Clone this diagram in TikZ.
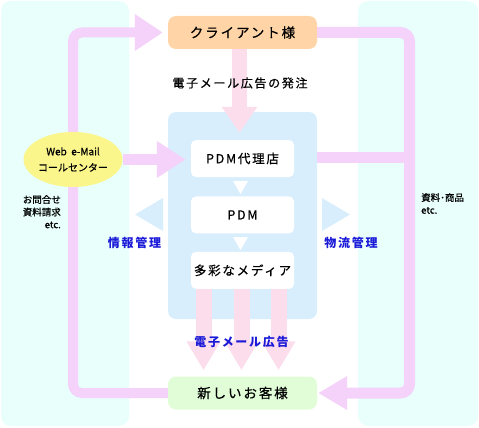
\documentclass[tikz,border=0pt]{standalone}
\usepackage{fontspec}
\setmainfont{Noto Sans CJK JP}[FakeBold=0.6]
\newfontfamily\jpwide[LetterSpace=14, FakeBold=0.6]{Noto Sans CJK JP}
\newfontfamily\jpbold[LetterSpace=14]{Noto Sans CJK JP}
\usetikzlibrary{arrows.meta, positioning, shapes.geometric}

\definecolor{panelcyan}{HTML}{E8FFFC}
\definecolor{flowviolet}{HTML}{F5D2FA}
\definecolor{adpink}{HTML}{FCDDEC}
\definecolor{pdmblue}{HTML}{D8EEFD}
\definecolor{clientpeach}{HTML}{FFD5A8}
\definecolor{custgreen}{HTML}{E0FDD8}
\definecolor{callyellow}{HTML}{FAF68C}
\definecolor{labelblue}{HTML}{1A1AD8}

\begin{document}
\begin{tikzpicture}[x=1pt, y=-1pt,
  panel/.style={fill=panelcyan, rounded corners=10pt},
  party/.style={rounded corners=8pt, minimum width=149pt, minimum height=33pt,
    inner sep=0pt, font=\jpwide\fontsize{13.5}{16}\selectfont},
  stagebox/.style={fill=white, rounded corners=5pt, minimum width=103pt,
    minimum height=37pt, inner sep=0pt, font=\jpwide\fontsize{12.5}{15}\selectfont},
  flow/.style={draw=flowviolet, line width=10pt, rounded corners=9pt},
  adarrow/.style={draw=adpink, line width=16pt,
    -{Triangle[length=29pt, width=32pt]}},
  bluelabel/.style={text=labelblue, font=\jpbold\bfseries\fontsize{12}{14}\selectfont},
  sidetext/.style={font=\fontsize{9.5}{12.5}\selectfont, inner sep=0pt}
]
\useasboundingbox (0,0) rectangle (479,428);

% side panels
\fill[panel] (1,1) rectangle (129,426);
\fill[panel] (358,1) rectangle (478,426);

% PDM block
\node[fill=pdmblue, rounded corners=8pt, minimum width=149pt, minimum height=207pt]
  (pdmpanel) at (242.5,215.5) {};
\node[stagebox] (agent) at (242.5,158.5) {PDM代理店};
\node[stagebox, below=19pt of agent] (pdm) {PDM};
\node[stagebox, below=18pt of pdm] (media) {多彩なメディア};
\fill[white] (233,181) -- (248,181) -- (240.5,194) -- cycle;
\fill[white] (233,237) -- (248,237) -- (240.5,250) -- cycle;

% information and logistics
\fill[pdmblue] (163,198) -- (163,231) -- (135,214.5) -- cycle;
\fill[pdmblue] (322,198) -- (322,231) -- (350,214.5) -- cycle;
\node[bluelabel] (infolbl) at (134.5,243) {情報管理};
\node[bluelabel] (logilbl) at (351,243) {物流管理};

% parties
\node[party, fill=clientpeach] (client) at (242.5,32.5) {クライアント様};
\node[party, fill=custgreen] (newcust) at (242.5,393) {新しいお客様};

\coordinate (leftrail) at (73,0);
\coordinate (rightrail) at (409.5,0);

% violet flows
\draw[flow, -{Triangle[length=28pt, width=35pt]}] (newcust.west)
  -| (leftrail |- client.west) -- ([xshift=-5pt]client.west);
\draw[flow, line width=11pt, -{Triangle[length=29pt, width=32pt]}] (client.east)
  -| (rightrail |- newcust.east) -- ([xshift=1pt]newcust.east);
\draw[flow, line width=11pt] ([yshift=1.5pt]pdmpanel.east |- agent.east)
  -- ([yshift=1.5pt]rightrail |- agent.east);

\node[ellipse, fill=callyellow, minimum width=90pt, minimum height=55pt,
  inner sep=0pt, align=center, font=\fontsize{10}{16}\selectfont]
  (callcenter) at (73,159.5) {Web\ \ e-Mail\\コールセンター};
\draw[flow, line width=11pt, -{Triangle[length=29pt, width=35pt]}]
  (callcenter.east) -- ([xshift=-5pt]agent.west |- callcenter.east);

% advertising arrows
\draw[adarrow, line width=15pt, -{Triangle[length=26pt, width=34pt]},
  shorten >=7pt] ([xshift=-3pt]client.south) -- ([xshift=-3pt]client.south |- agent.north);
\foreach \dx in {-39,-1,36}
  \draw[adarrow, shorten >=6pt] ([xshift=\dx pt]media.south)
    -- ([xshift=\dx pt]media.south |- newcust.north);

% labels
\node[font=\jpwide\fontsize{12}{14}\selectfont] (orderlbl) at (240,83) {電子メール広告の発注};
\node[bluelabel] (adlbl) at (241.5,342) {電子メール広告};
\node[sidetext, align=right, anchor=north east] (leftnote) at (61,195)
  {お問合せ\\資料請求\\etc.};
\node[sidetext, align=left, anchor=north west] (rightnote) at (421,193)
  {資料･商品\\etc.};
\end{tikzpicture}
\end{document}
